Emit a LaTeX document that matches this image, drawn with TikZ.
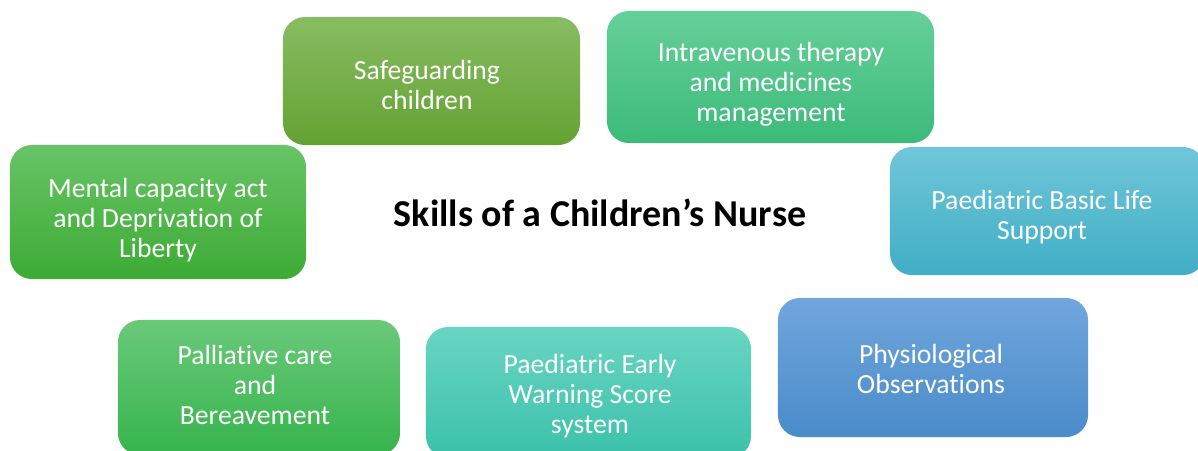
\documentclass[tikz,border=0pt]{standalone}
\usepackage{fontspec}
\setmainfont[Ligatures=NoCommon]{Carlito}
\begin{document}
\begin{tikzpicture}[x=0.025cm,y=-0.025cm,
  skill/.style={rounded corners=0.55cm, align=center, text=white,
    font=\fontsize{19.7}{21.5}\selectfont, inner sep=0pt},
  olive/.style={top color=olivetop, bottom color=olivebot},
  mint/.style={top color=minttop, bottom color=mintbot},
  grass/.style={top color=grasstop, bottom color=grassbot},
  sky/.style={top color=skytop, bottom color=skybot},
  leaf/.style={top color=leaftop, bottom color=leafbot},
  aqua/.style={top color=aquatop, bottom color=aquabot},
  azure/.style={top color=azuretop, bottom color=azurebot}]
\definecolor{olivetop}{HTML}{88BC62}
\definecolor{olivebot}{HTML}{64A232}
\definecolor{minttop}{HTML}{66D09A}
\definecolor{mintbot}{HTML}{3CBA7A}
\definecolor{grasstop}{HTML}{68C466}
\definecolor{grassbot}{HTML}{3CAB34}
\definecolor{skytop}{HTML}{70C6D8}
\definecolor{skybot}{HTML}{40AEC6}
\definecolor{leaftop}{HTML}{6AC97A}
\definecolor{leafbot}{HTML}{36B44C}
\definecolor{aquatop}{HTML}{68D5C2}
\definecolor{aquabot}{HTML}{3BC1AA}
\definecolor{azuretop}{HTML}{70A6DC}
\definecolor{azurebot}{HTML}{4A8BCA}
\useasboundingbox (0,0) rectangle (1198,450);
\clip (0,0) rectangle (1198,450);

% rounded skill boxes
\node[skill, olive, minimum width=7.425cm, minimum height=3.2cm] (safe) at (431.5,81) {};
\node[skill, mint, minimum width=8.175cm, minimum height=3.3cm] (iv) at (770.5,77) {};
\node[skill, grass, minimum width=7.4cm, minimum height=3.35cm] (mca) at (158,212) {};
\node[skill, sky, minimum width=7.875cm, minimum height=3.2cm] (bls) at (1047.5,211) {};
\node[skill, leaf, minimum width=7.05cm, minimum height=3.375cm] (pall) at (259,387.5) {};
\node[skill, aqua, minimum width=8.125cm, minimum height=3.275cm] (pews) at (588.5,392.5) {};
\node[skill, azure, minimum width=7.75cm, minimum height=3.475cm] (obs) at (933,367.5) {};

% labels
\node[skill] (safet) at (427,85) {Safeguarding\\children};
\node[skill] (ivt) at (771,84) {Intravenous therapy\\and medicines\\management};
\node[skill] (mcat) at (158,220) {Mental capacity act\\and Deprivation of\\Liberty};
\node[skill] (blst) at (1042,217) {Paediatric Basic Life\\Support};
\node[skill] (pallt) at (255,385) {Palliative care\\and\\Bereavement};
\node[skill] (pewst) at (590,396) {Paediatric Early\\Warning Score\\system};
\node[skill] (obst) at (931,369) {Physiological\\Observations};

% central title
\node[font=\fontsize{27}{30}\selectfont\bfseries] (title) at (600,213) {Skills of a Children’s Nurse};
\end{tikzpicture}
\end{document}
